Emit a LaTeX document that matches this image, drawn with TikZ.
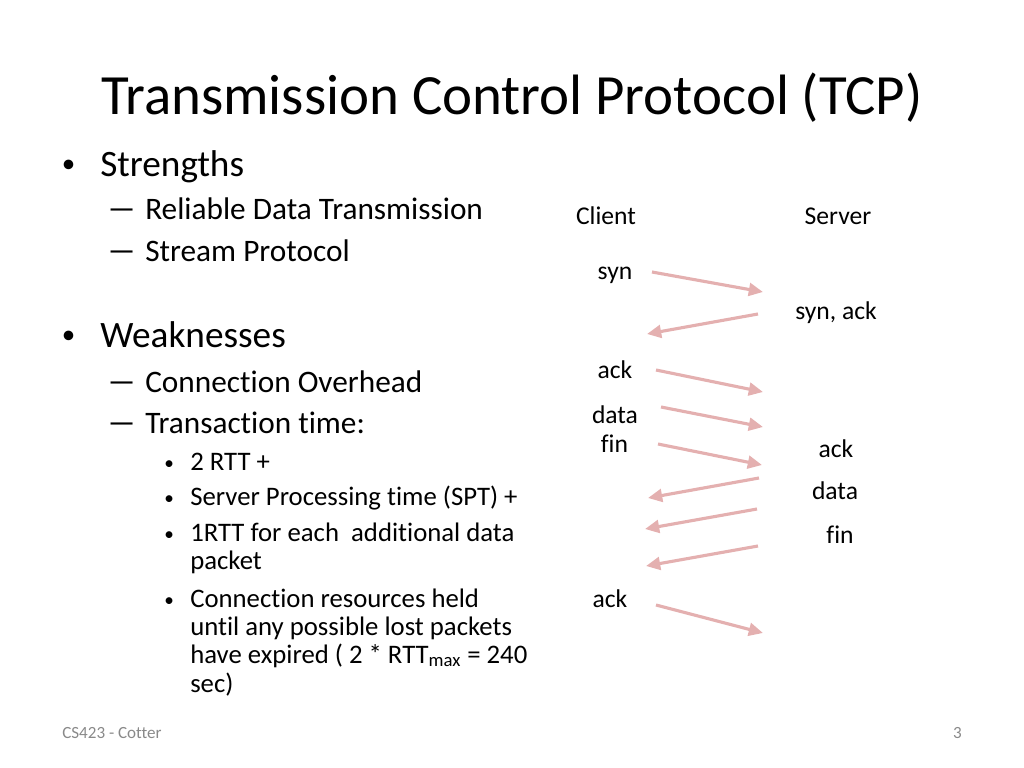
\documentclass[tikz,border=0pt]{standalone}
\usepackage{fontspec}
\setmainfont{Carlito}[Ligatures={NoCommon}]
\usetikzlibrary{arrows.meta}
\definecolor{arrowpink}{RGB}{228,176,176}
\definecolor{footgray}{RGB}{137,137,137}
\newcommand{\widedash}{\scalebox{1.8}[1]{–}}
\tikzset{
  px/.style={x=0.703125pt,y=-0.703125pt},
  titletext/.style={font=\fontsize{40}{44}\selectfont,anchor=base,inner sep=0pt},
  lvla/.style={font=\fontsize{26.2}{30}\selectfont,anchor=base west,inner sep=0pt},
  lvlb/.style={font=\fontsize{22}{26}\selectfont,anchor=base west,inner sep=0pt},
  dashb/.style={font=\fontsize{24}{28}\selectfont,anchor=base west,inner sep=0pt},
  lvlc/.style={font=\fontsize{18.8}{22}\selectfont,anchor=base west,inner sep=0pt},
  bula/.style={font=\fontsize{19}{22}\selectfont,anchor=base west,inner sep=0pt},
  bulc/.style={font=\fontsize{13.5}{16}\selectfont,anchor=base west,inner sep=0pt},
  lbl/.style={font=\fontsize{18}{22}\selectfont,anchor=base,inner sep=0pt},
  foot/.style={font=\fontsize{12}{14}\selectfont,text=footgray,inner sep=0pt},
  msg/.style={draw=arrowpink,line width=2.2pt,-{Triangle[length=10pt,width=9pt]}},
}
\begin{document}
\begin{tikzpicture}[px]
\useasboundingbox (0,0) rectangle (1024,768);
% title
\node[titletext] (title) at (512,115) {Transmission Control Protocol (TCP)};
% bullets
\node[bula] (b1) at (61.5,173) {•};
\node[lvla] (t1) at (100,177) {Strengths};
\node[dashb] (d1) at (106,220) {\widedash};
\node[lvlb] (t11) at (145,220) {Reliable Data Transmission};
\node[dashb] (d2) at (106,262) {\widedash};
\node[lvlb] (t12) at (145,262) {Stream Protocol};
\node[bula] (b2) at (61.5,344) {•};
\node[lvla] (t2) at (100,348) {Weaknesses};
\node[dashb] (d3) at (106,392) {\widedash};
\node[lvlb] (t21) at (145,392) {Connection Overhead};
\node[dashb] (d4) at (106,433) {\widedash};
\node[lvlb] (t22) at (145,433) {Transaction time:};
\node[bulc] (c1) at (164,469) {•};
\node[lvlc] (s1) at (190,470) {2 RTT +};
\node[bulc] (c2) at (164,504) {•};
\node[lvlc] (s2) at (190,505) {Server Processing time (SPT) +};
\node[bulc] (c3) at (164,540) {•};
\node[lvlc] (s3a) at (190,541) {1RTT for each\ \ additional data};
\node[lvlc] (s3b) at (190,569) {packet};
\node[bulc] (c4) at (164,606) {•};
\node[lvlc] (s4a) at (190,607) {Connection resources held};
\node[lvlc] (s4b) at (190,635) {until any possible lost packets};
\node[lvlc] (s4c) at (190,663) {have expired ( 2 * RTT\textsubscript{max} = 240};
\node[lvlc] (s4d) at (190,692) {sec)};
% diagram labels
\node[lbl] (client) at (606,225) {Client};
\node[lbl] (server) at (838,225) {Server};
\node[lbl] (lsyn) at (615,280) {syn};
\node[lbl] (lsynack) at (836,320) {syn, ack};
\node[lbl] (lack1) at (615,378) {ack};
\node[lbl] (ldata1) at (615,423) {data};
\node[lbl] (lfin1) at (614.5,452) {fin};
\node[lbl] (lack2) at (836,457) {ack};
\node[lbl] (ldata2) at (835,499) {data};
\node[lbl] (lfin2) at (840,543) {fin};
\node[lbl] (lack3) at (610,607) {ack};
% arrow end points
\coordinate (a1s) at (652,272); \coordinate (a1e) at (763,292);
\coordinate (a2s) at (758,314); \coordinate (a2e) at (647,334);
\coordinate (a3s) at (656,370); \coordinate (a3e) at (763,392);
\coordinate (a4s) at (661,407); \coordinate (a4e) at (763,427);
\coordinate (a5s) at (658,444); \coordinate (a5e) at (762,465);
\coordinate (a6s) at (759,478); \coordinate (a6e) at (648,498);
\coordinate (a7s) at (757,509); \coordinate (a7e) at (645,529);
\coordinate (a8s) at (758,546); \coordinate (a8e) at (646,566);
\coordinate (a9s) at (656,605); \coordinate (a9e) at (763,633);
\draw[msg] (a1s) -- (a1e);
\draw[msg] (a2s) -- (a2e);
\draw[msg] (a3s) -- (a3e);
\draw[msg] (a4s) -- (a4e);
\draw[msg] (a5s) -- (a5e);
\draw[msg] (a6s) -- (a6e);
\draw[msg] (a7s) -- (a7e);
\draw[msg] (a8s) -- (a8e);
\draw[msg] (a9s) -- (a9e);
% footer
\node[foot,anchor=base west] (footl) at (62,738) {CS423 - Cotter};
\node[foot,anchor=base east] (footr) at (962,738) {3};
\end{tikzpicture}
\end{document}
